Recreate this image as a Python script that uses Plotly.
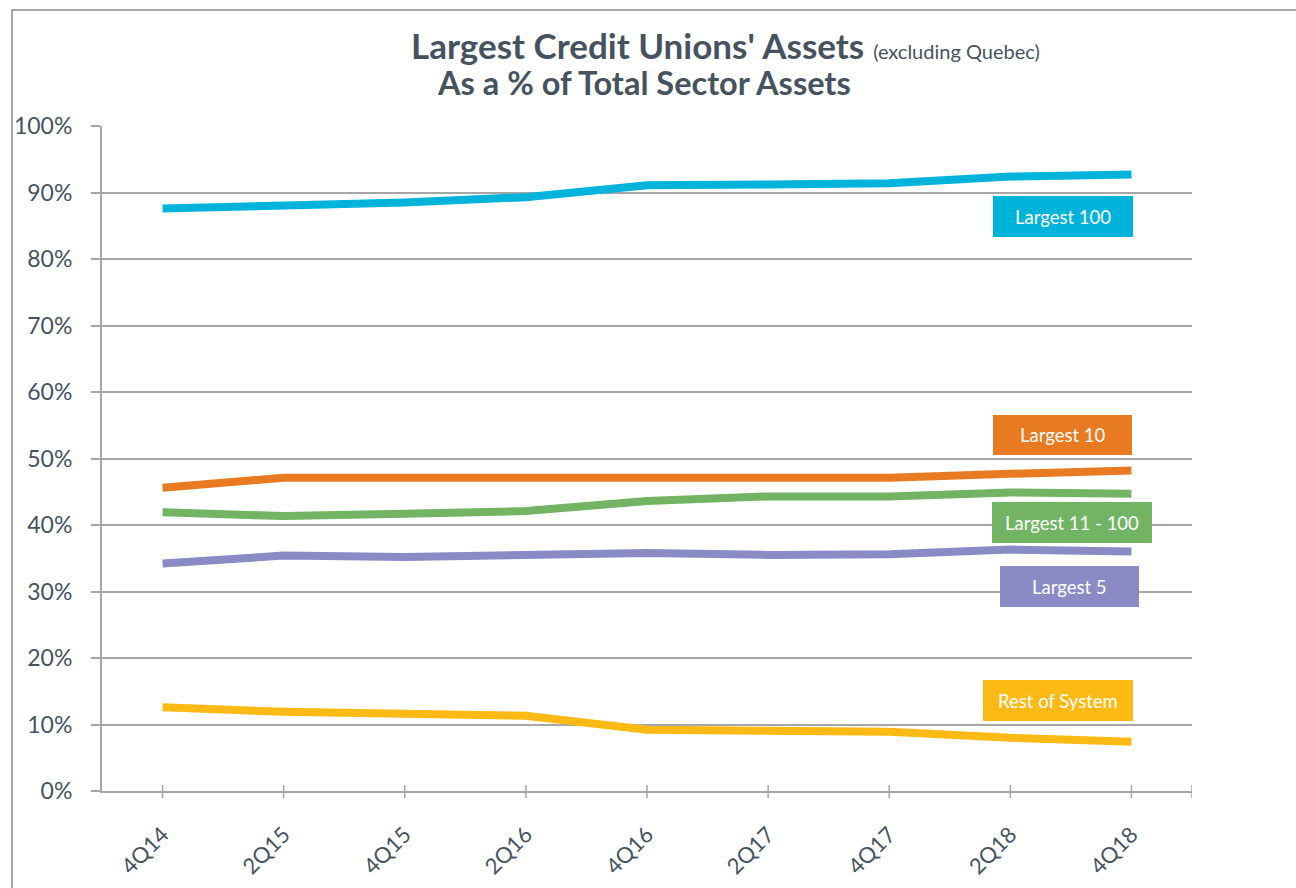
import plotly.graph_objects as go

# ---------------- data ----------------
quarters = ["4Q14", "2Q15", "4Q15", "2Q16", "4Q16", "2Q17", "4Q17", "2Q18", "4Q18"]
largest_100 = [87.6, 88.0, 88.5, 89.3, 91.1, 91.2, 91.4, 92.4, 92.7]
largest_10 = [45.6, 47.1, 47.1, 47.1, 47.3, 47.1, 47.1, 47.7, 48.2]
largest_11_100 = [41.9, 41.35, 41.7, 42.1, 43.6, 44.3, 44.3, 44.9, 44.7]
largest_5 = [34.2, 35.4, 35.2, 35.6, 35.8, 35.5, 35.6, 36.3, 36.0]
rest_of_system = [12.6, 11.9, 11.6, 11.3, 9.2, 9.0, 8.9, 8.0, 7.4]

series_names = ["Largest 100", "Largest 10", "Largest 11 - 100", "Largest 5", "Rest of System"]
series_values = [largest_100, largest_10, largest_11_100, largest_5, rest_of_system]
series_colors = ["#00B3DB", "#E87B22", "#72B464", "#8A8BC5", "#FDBA14"]

title_main = "Largest Credit Unions' Assets"
title_note = "(excluding Quebec)"
title_sub = "As a % of Total Sector Assets"

# ---------------- layout geometry (pixels) ----------------
W, H = 1296, 888
PL, PR, PT, PB = 102, 1192, 126, 791  # plot area


def px(x):
    return (x - PL) / (PR - PL)


def py(y):
    return (PB - y) / (PB - PT)


TEXT = "#46535F"
GRID = "#A6A6A6"
FONT = "Lato"

fig = go.Figure()
for name, vals, col in zip(series_names, series_values, series_colors):
    fig.add_trace(go.Scatter(
        x=list(range(len(quarters))), y=vals, name=name, mode="lines",
        line=dict(color=col, width=8), showlegend=False,
        hovertemplate="%{y:.1f}%<extra>" + name + "</extra>"))

shapes = []
annotations = []

# outer chart border
shapes.append(dict(type="rect", xref="paper", yref="paper",
                   x0=px(12), x1=px(1310), y0=py(10), y1=py(900),
                   line=dict(color="#8C8C8C", width=1.5), fillcolor="rgba(0,0,0,0)", layer="below"))

# crossing tick marks on the category axis
tick_positions = list(range(len(quarters))) + [len(quarters) - 0.5]
for t in tick_positions:
    shapes.append(dict(type="line", xref="x", yref="paper", x0=t, x1=t,
                       y0=py(798), y1=py(785), line=dict(color=GRID, width=1.5)))

# label boxes: (text, color, x0, x1, y0, y1) in pixels
label_boxes = [
    ("Largest 100", series_colors[0], 993, 1133, 196, 237),
    ("Largest 10", series_colors[1], 993, 1132, 415, 455),
    ("Largest 11 - 100", series_colors[2], 992, 1152, 502, 543),
    ("Largest 5", series_colors[3], 1000, 1139, 566, 607),
    ("Rest of System", series_colors[4], 983, 1133, 680, 721),
]
for text, col, x0, x1, y0, y1 in label_boxes:
    shapes.append(dict(type="rect", xref="paper", yref="paper",
                       x0=px(x0), x1=px(x1), y0=py(y1), y1=py(y0),
                       line=dict(width=0), fillcolor=col, layer="above"))
    annotations.append(dict(xref="paper", yref="paper", x=px((x0 + x1) / 2), y=py((y0 + y1) / 2),
                            text=text, showarrow=False, xanchor="center", yanchor="middle",
                            font=dict(family=FONT, size=18.5, color="white")))

# title
annotations.append(dict(xref="paper", yref="paper", x=px(725), y=py(45), xanchor="center", yanchor="middle",
                        showarrow=False,
                        text="<b>" + title_main + "</b> <span style='font-size:20px;font-weight:normal'>" + title_note + "</span>",
                        font=dict(family=FONT, size=35, color=TEXT)))
annotations.append(dict(xref="paper", yref="paper", x=px(644), y=py(83), xanchor="center", yanchor="middle",
                        showarrow=False, text="<b>" + title_sub + "</b>",
                        font=dict(family=FONT, size=32.5, color=TEXT)))

fig.update_layout(
    width=W, height=H,
    margin=dict(l=PL, r=W - PR, t=PT, b=H - PB, autoexpand=False),
    paper_bgcolor="white", plot_bgcolor="white",
    font=dict(family=FONT, color=TEXT),
    shapes=shapes, annotations=annotations,
    xaxis=dict(range=[-0.5, len(quarters) - 0.5], tickmode="array",
               tickvals=list(range(len(quarters))), ticktext=quarters,
               tickangle=-45, ticks="", showgrid=False, zeroline=False, automargin=False,
               showline=True, linecolor=GRID, linewidth=2,
               tickfont=dict(family=FONT, size=22, color=TEXT), ticklabelstandoff=20),
    yaxis=dict(range=[0, 100], dtick=10, ticksuffix="%", showgrid=True, gridcolor=GRID, gridwidth=1.5,
               zeroline=False, showline=True, linecolor=GRID, linewidth=2, automargin=False,
               ticks="outside", ticklen=9, tickcolor=GRID, tickwidth=1.5,
               tickfont=dict(family=FONT, size=23, color=TEXT), ticklabelstandoff=14),
)

fig.write_html("out.html")
